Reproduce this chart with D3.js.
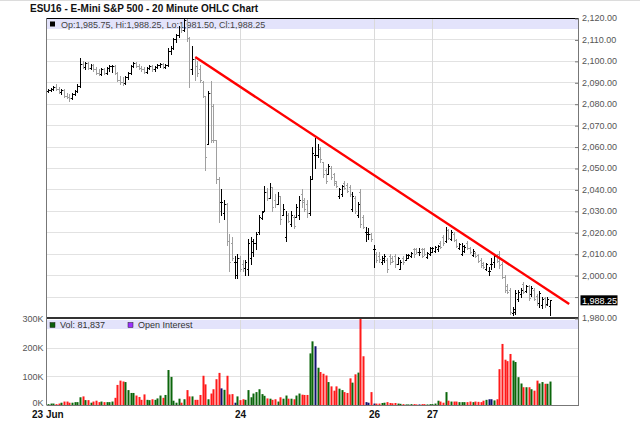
<!DOCTYPE html>
<html>
<head>
<meta charset="utf-8">
<script src="https://cdn.jsdelivr.net/npm/d3@7"></script>
<style>
  body { margin: 0; background: #fff; }
  text { font-family: "Liberation Sans", Arial, sans-serif; }
</style>
</head>
<body>
<div id="chart"></div>
<script>
// 20 minute bars, ESU16
var opens = [2086,2086.5,2087,2088,2087,2085.5,2086.5,2083.5,2083,2082.5,2084.5,2086,
  2088.5,2098.5,2097,2099,2096.5,2098,2096,2094.5,2094,2096,2094.5,2096.5,2097.5,
  2097.75,2094.5,2091,2090,2089.5,2092.5,2094.5,2097.5,2099,2097.5,2096.5,2096,
  2095,2096.5,2097.5,2096,2097,2098,2098.5,2097,
  2098,2104.5,2106,2110,2112,2116,2114.5,2119,
  2110.5,2096,2101,2097.5,2096,2090,2083.5,2061,2085,2079,2063,2045,2034,2029,2033,2016,2015,2006,
  2000,2008,2005,2003.5,2003,2008,2011,2015,2020,2026.5,2030,2039,2036,2041,2035,2033,2037,2028,
  2018,2028,2024,2027,2027,2028,2038,2035,2033,2029,2045,2056,2056,2059,2053,2049,2047,2050,
  2047,2044,2037,2038,2043,2042,2041,2031,2036,2028,2039,2027,2020,2019,2019,
  2012,2010,2009,2006,2007,2007,2009,2008,2009,2005,2003,2008,2007,2008,2009,2012,2012,2011,
  2012,2012,2008.5,2010,2011,2011.5,2012,2015,2018,2016,2021,2017,2019,2016.5,2012.5,2010,
  2011.5,2015,2012.5,2009.5,2010.5,2009.5,2007,2005.5,2003,2002,2005,2006,2009,
  2010,2005,1999,1995,1993,1982.5,1983,1989,1991,1996,1992.5,1995,1991,1993,1990.5,1987,
  1986,1989.5,1986.5,1985.75];
var highs = [2087,2087.5,2088.5,2089,2088,2087,2087,2085,2084.5,2085,2086.5,2089,
  2101.5,2100,2099.5,2099.5,2098.5,2098.5,2097,2096,2096.5,2096.5,2097,2098,2098,
  2098,2095,2093,2092.5,2093,2095,2098,2099.5,2099.5,2098.5,2097.5,2097,
  2097,2098,2098,2097.5,2098.5,2099,2099,2098.5,
  2106,2107,2110.5,2112.5,2116.5,2117,2120,2120,
  2111,2107,2102,2100,2098,2090.5,2083.5,2086,2090.5,2080,2063,2046,2040,2035,2033.5,2019,2018,2009,
  2010,2009,2007,2007,2017,2018,2017,2020,2028,2030,2041.5,2040.5,2043,2041,2038,2039,2037,2033,
  2030,2029,2030,2028,2033,2037,2040,2036,2035,2046.5,2060,2064,2061,2060,2053,2050,2052,2051,
  2047.5,2044,2040.5,2042,2044,2043,2042,2039,2037,2034,2040,2028,2022.5,2022,2019.5,
  2014,2011,2011,2009,2010,2008,2010,2009,2010,2008.5,2007,2009,2010,2010,2011,2012.75,2012.5,2012.5,
  2012.5,2012.5,2011,2013,2013,2013.5,2014,2016,2018.75,2022.5,2021.5,2021,2020,2017,2015,2015,
  2014,2016,2013,2012,2011,2010,2008,2006,2005.5,2004,2008,2010,2010,
  2011.5,2006,2000,1996,1994,1985,1993,1993,1994,1997,1995.5,1995.5,1995,1994,1991,1992.5,
  1990,1990,1990,1988.25];
var lows = [2085.5,2086,2086.5,2086.5,2085,2084.5,2083,2082.5,2081.5,2082,2084,2085.5,
  2088,2096.5,2096,2096,2096,2095.5,2094,2093.5,2093.5,2094,2094,2095.5,2095,
  2094,2090.5,2089,2088.75,2089,2091.5,2094,2097,2097,2096,2095.5,2094.5,
  2094.5,2096,2095.5,2095.5,2096.5,2097,2096.5,2096.5,
  2097.5,2103,2105.5,2109,2111,2113.5,2114,2109.5,
  2088,2094,2091,2093,2090,2083,2049,2061,2062,2062,2043,2025,2028,2026,2014,2002,2007,1998.5,
  1998.5,2002,2002,2000,2000,2005,2009,2012,2019,2026,2030,2035,2036,2030,2032,2033,2024,2028,
  2016,2025,2023,2022,2027,2026,2032,2030,2027,2028,2045,2050,2055,2053,2046,2043,2047,2045,
  2042,2041,2036,2037,2040,2039,2037,2030,2029,2027,2022.5,2022,2016,2017,2016,
  2004,2006,2006,2005,2006,2001.5,2005,2006,2004,2005,2003,2005,2007,2008,2008.5,2008.5,2010.5,2009.5,
  2008.5,2009.5,2008,2009.5,2011,2011,2011.5,2012.5,2014,2015.5,2017,2016.5,2016,2013,2012,2009.5,
  2011,2012,2010.5,2009,2008.5,2006,2004,2003.5,2002.5,2000,2003,2004,2006,
  2003.5,1998.5,1992,1991.5,1982,1981.5,1982,1988,1990,1991.5,1992,1988.5,1990.5,1988.5,1986,1985,
  1984.5,1985,1986,1981.5];
var closes = [2086.5,2087,2088,2087,2085.5,2086.5,2083.5,2083,2082.5,2084.5,2086,2088.5,
  2098.5,2097,2099,2096.5,2098,2096,2094.5,2094,2096,2094.5,2096.5,2097.5,2097.75,
  2094.5,2091,2090,2089.5,2092.5,2094.5,2097.5,2099,2097.5,2096.5,2096,2095,
  2096.5,2097.5,2096,2097,2098,2098.5,2097,2098,
  2104.5,2106,2110,2112,2116,2114.5,2119,2110.5,
  2096,2101,2097.5,2094.5,2091,2083.5,2055,2085,2063,2063,2045,2030,2034,2033,2016,2006,2008,2006,
  2008,2003,2003.5,2006,2015,2016,2015,2019,2027,2029.5,2039,2036,2041,2032,2033,2037,2026,2031,
  2028,2025.5,2028,2023,2032,2035,2034,2031,2029,2045,2057,2056,2059,2054,2047,2044,2051,2046,
  2043,2041.5,2040,2041.5,2040.5,2039.5,2038,2037,2030,2033,2024,2022.5,2020,2019,2017,
  2012,2007,2007.5,2008,2009,2003,2006,2006.5,2005,2008,2006,2006,2009.5,2009.5,2010.5,2010,2011,2011,
  2009,2010,2010.5,2012.5,2012.5,2013,2013.5,2013,2015,2021,2017.5,2020,2016.5,2013.5,2014.5,2013.5,
  2013,2012.5,2011,2011.5,2009,2006.5,2004.5,2004,2005,2002,2005,2009,2006.5,
  2004.5,1999,1993,1992,1983,1984,1991.5,1992,1993,1992,1995,1989.5,1994,1989,1987,1991.5,
  1989,1986,1989,1988.25];
// volume in thousands of contracts
var volumes = [3,5,5,3,5,8,12,12,8,8,10,10,
  27,30,17,17,8,12,15,10,12,10,10,10,12,
  25,70,85,82,80,52,42,42,33,28,18,37,
  18,17,20,18,23,33,25,35,
  122,98,15,8,22,8,20,52,
  30,30,18,18,35,102,72,20,40,55,90,112,58,53,102,37,38,8,
  30,17,20,18,52,27,40,45,55,38,32,23,22,18,20,12,27,22,
  33,22,22,20,33,40,36,35,35,180,222,205,130,115,109,103,80,65,
  50,65,57,52,45,42,93,78,107,113,300,170,10,8,45,
  5,5,5,7,8,10,7,6,7,5,4,3,2,2,3,3,2,2,
  3,3,2,3,3,5,15,12,8,45,15,12,12,12,10,10,
  10,10,12,10,12,11,10,15,18,20,20,16,20,
  125,213,158,153,178,155,150,97,75,62,62,62,55,50,85,75,
  80,74,74,81.837];

var dateTicks = [0, 72, 122, 144];
var dateLabels = ["23 Jun", "24", "26", "27"];
var priceTicks = [1980, 1990, 2000, 2010, 2020, 2030, 2040, 2050, 2060, 2070, 2080, 2090, 2100, 2110, 2120];
var volTicks = [0, 100, 200, 300];
var trendIdx = [55.2, 195.2];
var trendPrice = [2101.75, 1986.5];

var svg = d3.select("#chart")
  .append("svg")
  .attr("width", 640)
  .attr("height", 427);

var left = 46.5, right = 578;
var x = d3.scaleLinear().domain([-0.5, 198.5]).range([left, right]);
var y = d3.scaleLinear().domain([1980, 2120]).range([318, 18]);
var yv = d3.scaleLinear().domain([0, 300]).range([405, 319]);

function px(i) { return Math.round(x(i)) + 0.5; }
function dir(i) { return closes[i] > opens[i] ? 1 : (closes[i] < opens[i] ? -1 : 0); }

var last = closes[closes.length - 1];

svg.append("line")
  .attr("x1", 0).attr("x2", 640).attr("y1", 0.5).attr("y2", 0.5)
  .attr("stroke", "#dcdcdc");

// title
svg.append("text")
  .attr("x", 30).attr("y", 12)
  .attr("font-size", "10px")
  .attr("font-weight", "bold")
  .attr("fill", "#111")
  .text("ESU16 - E-Mini S&P 500 - 20 Minute OHLC Chart");

// legend bands
svg.append("rect").attr("x", left).attr("y", 19).attr("width", right - left).attr("height", 10).attr("fill", "#e3e3fb");
svg.append("rect").attr("x", left).attr("y", 320).attr("width", right - left).attr("height", 9).attr("fill", "#e3e3fb");

// horizontal grid
svg.append("g").selectAll("line")
  .data(priceTicks.filter(d => d > 1980 && d < 2120))
  .enter().append("line")
  .attr("x1", left).attr("x2", right)
  .attr("y1", d => Math.round(y(d)) + 0.5).attr("y2", d => Math.round(y(d)) + 0.5)
  .attr("stroke", "#e2e2e2");

svg.append("g").selectAll("line")
  .data([100, 200])
  .enter().append("line")
  .attr("x1", left).attr("x2", right)
  .attr("y1", d => Math.round(yv(d)) + 0.5).attr("y2", d => Math.round(yv(d)) + 0.5)
  .attr("stroke", "#e2e2e2");

// vertical grid at day changes
var vg = svg.append("g");
dateTicks.slice(1).forEach(function(t) {
  vg.append("line").attr("x1", px(t)).attr("x2", px(t)).attr("y1", 19).attr("y2", 318).attr("stroke", "#dadada");
  vg.append("line").attr("x1", px(t)).attr("x2", px(t)).attr("y1", 320).attr("y2", 405).attr("stroke", "#dadada");
});

// legend entries
svg.append("rect").attr("x", 50).attr("y", 21.5).attr("width", 5).attr("height", 5).attr("fill", "#000");
svg.append("text").attr("x", 61).attr("y", 27.5).attr("font-size", "9px").attr("fill", "#444")
  .text("Op:1,985.75, Hi:1,988.25, Lo:1,981.50, Cl:1,988.25");
svg.append("rect").attr("x", 50).attr("y", 322.5).attr("width", 5).attr("height", 5).attr("fill", "#0b5e0b").attr("stroke", "#222").attr("stroke-width", 0.5);
svg.append("text").attr("x", 60).attr("y", 328).attr("font-size", "9px").attr("fill", "#333").text("Vol: 81,837");
svg.append("rect").attr("x", 128).attr("y", 322.5).attr("width", 5).attr("height", 5).attr("fill", "#9b30ff").attr("stroke", "#222").attr("stroke-width", 0.5);
svg.append("text").attr("x", 138).attr("y", 328).attr("font-size", "9px").attr("fill", "#333").text("Open Interest");

// OHLC bars
var idx = d3.range(closes.length);
var bars = svg.append("g").attr("shape-rendering", "crispEdges");
bars.selectAll("g")
  .data(idx)
  .enter().append("g")
  .attr("stroke", i => dir(i) < 0 ? "#a0a0a0" : "#000")
  .each(function(i) {
    var g = d3.select(this);
    g.append("line").attr("x1", px(i)).attr("x2", px(i)).attr("y1", y(highs[i])).attr("y2", y(lows[i]) + 1);
    g.append("line").attr("x1", px(i) - 1.5).attr("x2", px(i)).attr("y1", Math.round(y(opens[i])) + 0.5).attr("y2", Math.round(y(opens[i])) + 0.5);
    g.append("line").attr("x1", px(i)).attr("x2", px(i) + 1.5).attr("y1", Math.round(y(closes[i])) + 0.5).attr("y2", Math.round(y(closes[i])) + 0.5);
  });

// trend line
svg.append("line")
  .attr("x1", x(trendIdx[0])).attr("y1", y(trendPrice[0]))
  .attr("x2", x(trendIdx[1])).attr("y2", y(trendPrice[1]))
  .attr("stroke", "#ff0000")
  .attr("stroke-width", 2.4);

// volume bars
svg.append("clipPath").attr("id", "vclip")
  .append("rect").attr("x", left).attr("y", 318).attr("width", right - left).attr("height", 87);
svg.append("g").attr("clip-path", "url(#vclip)")
  .selectAll("rect")
  .data(idx)
  .enter().append("rect")
  .attr("x", i => Math.round(x(i)) - 0.5)
  .attr("width", 2)
  .attr("y", i => yv(volumes[i]))
  .attr("height", i => yv(0) - yv(volumes[i]))
  .attr("fill", i => dir(i) > 0 ? "#0b660b" : (dir(i) < 0 ? "#ff1a1a" : "#10106e"));

// frames
svg.append("line").attr("x1", left).attr("x2", right).attr("y1", 18.5).attr("y2", 18.5).attr("stroke", "#000");
svg.append("line").attr("x1", left).attr("x2", right).attr("y1", 318).attr("y2", 318).attr("stroke", "#333").attr("stroke-width", 2);
svg.append("line").attr("x1", left).attr("x2", left).attr("y1", 18).attr("y2", 405).attr("stroke", "#777");
svg.append("line").attr("x1", left).attr("x2", right).attr("y1", 405.5).attr("y2", 405.5).attr("stroke", "#777");
svg.append("line").attr("x1", right + 0.5).attr("x2", right + 0.5).attr("y1", 18).attr("y2", 406).attr("stroke", "#777");

// price axis on the right; the label under the last price box is left out
var yAxis = d3.axisRight(y)
  .tickValues(priceTicks)
  .tickFormat(d => Math.abs(y(d) - y(last)) < 9 ? "" : d3.format(",.2f")(d))
  .tickSize(0)
  .tickPadding(4);
var ya = svg.append("g")
  .attr("transform", `translate(${right}, 0)`)
  .call(yAxis);
ya.select(".domain").remove();
ya.selectAll("text").attr("font-size", "9px").attr("fill", "#555").attr("font-family", "Liberation Sans, Arial, sans-serif");
ya.selectAll(".tick").append("line")
  .attr("x1", -3).attr("x2", 0).attr("y1", 0.5).attr("y2", 0.5)
  .attr("stroke", "#777");

// last price box
svg.append("rect")
  .attr("x", 580.5).attr("y", y(last) - 5)
  .attr("width", 37).attr("height", 10)
  .attr("fill", "#000");
svg.append("text")
  .attr("x", 582).attr("y", y(last) + 3.5)
  .attr("font-size", "9px").attr("fill", "#fff")
  .text(d3.format(",.2f")(last));

// volume axis on the left
var vAxis = d3.axisLeft(yv)
  .tickValues(volTicks)
  .tickFormat(d => d + "K")
  .tickSize(0)
  .tickPadding(3);
var va = svg.append("g")
  .attr("transform", `translate(${left}, 0)`)
  .call(vAxis);
va.select(".domain").remove();
va.selectAll("text").attr("font-size", "9px").attr("fill", "#555").attr("font-family", "Liberation Sans, Arial, sans-serif")
  .attr("dy", d => d === 0 ? "0.1em" : "0.32em");

// date axis
svg.append("g").selectAll("text")
  .data(dateTicks)
  .enter().append("text")
  .attr("x", (d, k) => k === 0 ? 32 : px(d))
  .attr("y", 418)
  .attr("text-anchor", (d, k) => k === 0 ? "start" : "middle")
  .attr("font-size", "10px")
  .attr("font-weight", "bold")
  .attr("fill", "#111")
  .text((d, k) => dateLabels[k]);
</script>
</body>
</html>
